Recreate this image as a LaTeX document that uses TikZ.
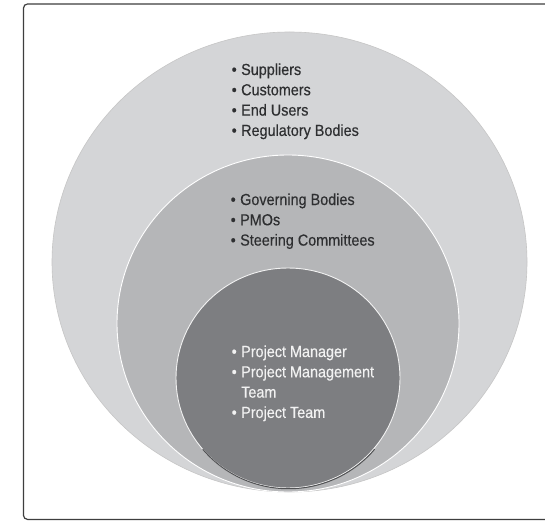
\documentclass[tikz,border=0pt]{standalone}
\usepackage{fontspec}
\newfontfamily\lblfont[FakeStretch=0.9,FakeBold=0.4]{Liberation Sans}
\usetikzlibrary{shapes.geometric}
\definecolor{outerfill}{HTML}{D4D5D7}
\definecolor{midfill}{HTML}{B5B6B8}
\definecolor{innerfill}{HTML}{7D7E81}
\definecolor{darktext}{HTML}{2E2F31}
\definecolor{lighttext}{HTML}{F2F2F2}
\definecolor{framecol}{HTML}{3E3E3E}
\newcommand\bul{\makebox[9.5pt][l]{\textbullet}}
\begin{document}
\begin{tikzpicture}[x=1pt,y=1pt,
  ring/.style={ellipse, inner sep=0pt, outer sep=0pt},
  lst/.style={anchor=base west, inner sep=0pt, font=\lblfont\fontsize{16}{20.3}\selectfont}]
\useasboundingbox (0,0) rectangle (545,520);
\fill[white] (0,0) rectangle (545,520);
\draw[framecol, line width=1.2pt, rounded corners=4pt] (23.5,0.6) rectangle (560,516);
% rings
\node[ring, fill=outerfill, draw=gray!45, line width=0.6pt, minimum width=475pt, minimum height=460pt] (outer) at (289.5,258) {};
\node[ring, fill=midfill, draw=white, line width=0.9pt, minimum width=342pt, minimum height=337pt] (mid) at (288,196.5) {};
\node[ring, fill=innerfill, draw=white!90!innerfill, line width=0.9pt, minimum width=224pt, minimum height=220pt] (inner) at (288,142) {};
\draw[innerfill!65!black, line width=1pt, line cap=round] (inner.220) arc[start angle=220, end angle=320, x radius=112pt, y radius=110pt];
% texts
\node[lst, text=darktext] (t1) at (231.5,445) {\begin{tabular}[t]{@{}l@{}l@{}}
\bul & Suppliers\\ \bul & Customers\\ \bul & End Users\\ \bul & Regulatory Bodies
\end{tabular}};
\node[lst, text=darktext] (t2) at (230.5,315) {\begin{tabular}[t]{@{}l@{}l@{}}
\bul & Governing Bodies\\ \bul & PMOs\\ \bul & Steering Committees
\end{tabular}};
\node[lst, text=lighttext] (t3) at (231.5,163) {\begin{tabular}[t]{@{}l@{}l@{}}
\bul & Project Manager\\ \bul & Project Management\\ & Team\\ \bul & Project Team
\end{tabular}};
\end{tikzpicture}
\end{document}
